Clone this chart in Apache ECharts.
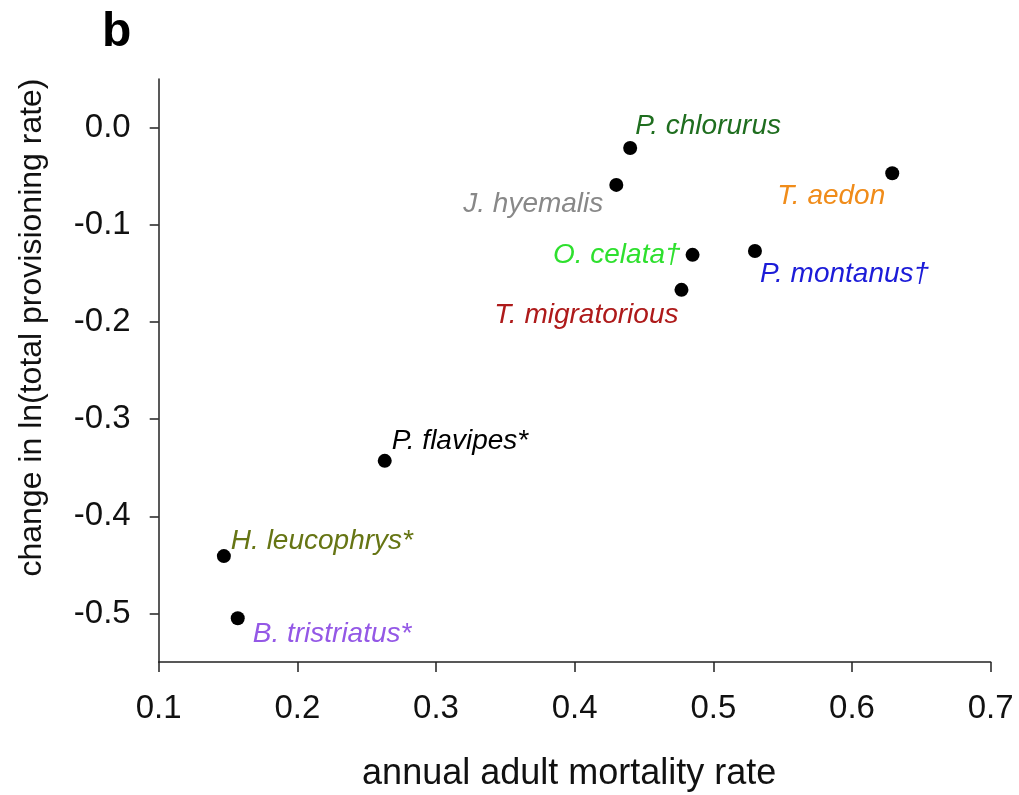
<!DOCTYPE html>
<html>
<head>
<meta charset="utf-8">
<script src="https://cdn.jsdelivr.net/npm/echarts@6/dist/echarts.min.js"></script>
<style>
  html, body { margin: 0; padding: 0; background: #fff; }
  #chart { width: 1019px; height: 795px; }
</style>
</head>
<body>
<div id="chart"></div>
<script>
// Species and their measured values
const species = [
  'P. chlorurus', 'J. hyemalis', 'T. aedon', 'O. celata\u2020', 'P. montanus\u2020',
  'T. migratorious', 'P. flavipes*', 'H. leucophrys*', 'B. tristriatus*'
];
const mortality = [0.440, 0.430, 0.629, 0.485, 0.530, 0.477, 0.263, 0.147, 0.157];
const provisioning = [-0.021, -0.059, -0.047, -0.131, -0.127, -0.167, -0.343, -0.441, -0.505];
const labelColors = [
  '#1f6e1f', '#888888', '#f08c1a', '#2ee02e', '#1c1cd8',
  '#ae1a1a', '#000000', '#667514', '#9458e6'
];
const xTicks = [0.1, 0.2, 0.3, 0.4, 0.5, 0.6, 0.7];
const yTicks = [0.0, -0.1, -0.2, -0.3, -0.4, -0.5];

// Where each species name sits relative to its dot (align, dx, dy)
const labelPlacement = [
  ['left', 5, -22],
  ['right', -13, 19],
  ['right', -7, 23],
  ['right', -12, 0],
  ['left', 5, 23],
  ['right', -3, 25],
  ['left', 7, -20],
  ['left', 7, -15],
  ['left', 15, 16]
];

const font = 'Liberation Sans, Arial, Helvetica, sans-serif';

const points = species.map((name, i) => ({
  name: name,
  value: [mortality[i], provisioning[i]],
  label: {
    show: true,
    formatter: name,
    position: 'inside',
    align: labelPlacement[i][0],
    verticalAlign: 'middle',
    offset: [labelPlacement[i][1], labelPlacement[i][2]],
    color: labelColors[i],
    fontStyle: 'italic',
    fontSize: 28,
    fontFamily: font
  }
}));

const chart = echarts.init(document.getElementById('chart'), null, { renderer: 'canvas' });

chart.setOption({
  animation: false,
  backgroundColor: '#ffffff',
  grid: {
    left: 158.7, right: 28.3, top: 79, bottom: 133,
    containLabel: false, outerBoundsMode: 'none'
  },
  xAxis: {
    type: 'value',
    min: 0.1,
    max: 0.7,
    interval: 0.1,
    name: 'annual adult mortality rate',
    nameLocation: 'middle',
    nameGap: 94,
    nameTextStyle: { fontSize: 36, color: '#111', fontFamily: font, padding: [0, 11, 0, 0] },
    axisLine: { show: true, onZero: false, lineStyle: { color: '#222', width: 1.5 } },
    axisTick: { show: true, inside: false, length: 10, customValues: xTicks, lineStyle: { color: '#222', width: 1.5 } },
    axisLabel: {
      margin: 30, fontSize: 33, color: '#111', fontFamily: font,
      customValues: xTicks,
      formatter: v => v.toFixed(1)
    },
    splitLine: { show: false }
  },
  yAxis: {
    type: 'value',
    min: -0.55,
    max: 0.05,
    interval: 0.05,
    name: 'change in ln(total provisioning rate)',
    nameLocation: 'middle',
    nameGap: 111,
    nameTextStyle: { fontSize: 32, color: '#111', fontFamily: font, padding: [0, 0, 0, 86] },
    axisLine: { show: true, onZero: false, lineStyle: { color: '#222', width: 1.5 } },
    axisTick: { show: true, inside: false, length: 9, customValues: yTicks, lineStyle: { color: '#222', width: 1.5 } },
    axisLabel: {
      margin: 28, fontSize: 33, color: '#111', fontFamily: font,
      customValues: yTicks,
      formatter: v => v.toFixed(1)
    },
    splitLine: { show: false }
  },
  graphic: [{
    type: 'text',
    left: 102,
    top: 9,
    style: { text: 'b', font: 'bold 48px ' + font, fill: '#000' }
  }],
  series: [{
    type: 'scatter',
    symbol: 'circle',
    symbolSize: 14,
    itemStyle: { color: '#000', opacity: 1 },
    data: points
  }]
});
</script>
</body>
</html>
